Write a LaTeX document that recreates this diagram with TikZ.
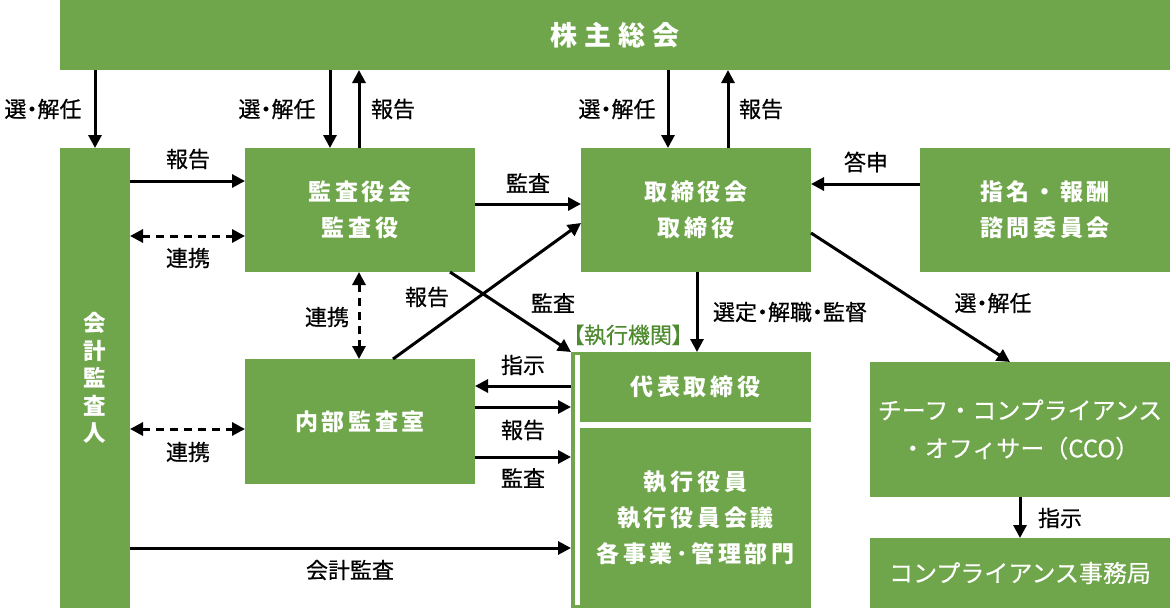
\documentclass[tikz,border=0pt]{standalone}
\usepackage{fontspec}
\setmainfont{Noto Sans CJK JP}
\newfontfamily\labfont{Noto Sans CJK JP}[RawFeature=+palt, FakeBold=0.5]
\newfontfamily\boxfontfam{Noto Sans CJK JP}[LetterSpace=16]
\newfontfamily\topfontfam{Noto Sans CJK JP}[LetterSpace=25]
\newfontfamily\ccofont{Noto Sans CJK JP}[FakeBold=0.3]
\usetikzlibrary{arrows.meta}
\definecolor{gr}{HTML}{70A64B}
\definecolor{dgr}{HTML}{4E8A2E}
\tikzset{
  box/.style={fill=gr, text=white, inner sep=0pt, outer sep=0pt, align=center,
    font=\boxfontfam\bfseries\fontsize{23}{36}\selectfont},
  lab/.style={inner sep=0pt, font=\labfont\fontsize{22}{26}\selectfont},
  arr/.style={line width=3pt, -{Triangle[length=13pt,width=13pt]}},
  darr/.style={line width=3pt, {Triangle[length=13pt,width=13pt]}-{Triangle[length=13pt,width=13pt]}, dash pattern=on 8pt off 6pt},
}
\begin{document}
\begin{tikzpicture}[x=1pt,y=-1pt]
\useasboundingbox (0,0) rectangle (1170,608);
% boxes
\node[box, minimum width=1110pt, minimum height=70pt, font=\topfontfam\bfseries\fontsize{27}{30}\selectfont] (top) at (615,35) {株主総会};
\node[box, minimum width=70pt, minimum height=460pt, font=\boxfontfam\bfseries\fontsize{22.5}{27.5}\selectfont] (acct) at (95,378) {会\\計\\監\\査\\人};
\node[box, minimum width=230pt, minimum height=124pt] (audit) at (360,210) {監査役会\\監査役};
\node[box, minimum width=230pt, minimum height=124pt] (board) at (696,210) {取締役会\\取締役};
\node[box, minimum width=250pt, minimum height=124pt] (nom) at (1045,210) {指名・報酬\\諮問委員会};
\node[box, minimum width=230pt, minimum height=125pt] (internal) at (360,421.5) {内部監査室};
\node[box, minimum width=240pt, minimum height=256pt] (exec) at (691,480) {};
\fill[white] (575,355) rectangle (580,605);
\node[box, minimum width=231pt, minimum height=70pt] (rep) at (695.5,387) {代表取締役};
\node[box, minimum width=231pt, minimum height=180pt] (low) at (695.5,518) {執行役員\\執行役員会議\\各事業･管理部門};
\fill[white] (580,422) rectangle (811,428);
\node[box, minimum width=300pt, minimum height=135pt, font=\ccofont\fontsize{24}{38}\selectfont] (cco) at (1020,429.5) {チーフ・コンプライアンス\\・オフィサー（CCO）};
\node[box, minimum width=300pt, minimum height=70pt, font=\ccofont\fontsize{24}{30}\selectfont] (office) at (1020,573) {コンプライアンス事務局};
\node[lab, text=dgr] (execlab) at (628,335) {【執行機関】};
% helper coordinates
\coordinate (aN1) at ([xshift=-30pt]audit.north);
\coordinate (aN2) at ([xshift=-1pt]audit.north);
\coordinate (bN1) at ([xshift=-28pt]board.north);
\coordinate (bN2) at ([xshift=32pt]board.north);
\coordinate (aW1) at ([yshift=29pt]audit.west);
\coordinate (aW2) at ([yshift=-26pt]audit.west);
\coordinate (bW1) at ([yshift=6pt]board.west);
\coordinate (bE1) at ([yshift=26pt]board.east);
\coordinate (bE2) at ([yshift=-23pt]board.east);
\coordinate (bW2) at ([yshift=-13pt]board.west);
\coordinate (iN1) at ([xshift=33pt]internal.north);
\coordinate (aS1) at ([xshift=90pt]audit.south);
\coordinate (aS2) at ([xshift=-1pt]audit.south);
\coordinate (iE1) at ([yshift=35.5pt]internal.east);
\coordinate (iE2) at ([yshift=14.5pt]internal.east);
\coordinate (iE3) at ([yshift=-35.5pt]internal.east);
\coordinate (cE1) at ([yshift=-170pt]acct.east);
\coordinate (cE2) at ([yshift=-51pt]acct.east);
\coordinate (bS1) at ([xshift=1pt]board.south);
\coordinate (ccoN) at ([xshift=-10pt]cco.north);
% connectors
\draw[arr] (top.south -| acct.north) -- (acct.north);
\draw[arr] (top.south -| aN1) -- (aN1);
\draw[arr] (aN2) -- (top.south -| aN2);
\draw[arr] (top.south -| bN1) -- (bN1);
\draw[arr] (bN2) -- (top.south -| bN2);
\draw[arr] (acct.east |- aW1) -- (aW1);
\draw[darr] (acct.east |- aW2) -- (aW2);
\draw[arr] (audit.east |- bW1) -- (bW1);
\draw[arr] (nom.west |- bE1) -- (bE1);
\draw[darr] (aS2) -- (internal.north -| aS2);
\draw[arr] (iN1) -- (bW2);
\draw[arr] (aS1) -- (exec.north west);
\draw[arr] (bS1) -- (rep.north -| bS1);
\draw[arr] (bE2) -- (ccoN);
\draw[arr] (exec.west |- iE1) -- (iE1);
\draw[arr] (iE2) -- (exec.west |- iE2);
\draw[arr] (iE3) -- (exec.west |- iE3);
\draw[arr] (cE1) -- (exec.west |- cE1);
\draw[darr] (cE2) -- (internal.west |- cE2);
\draw[arr] (cco.south) -- (office.north);
% labels
\node[lab] (l1) at (43,109) {選・解任};
\node[lab] (l2) at (277,109) {選・解任};
\node[lab] (l3) at (393,109) {報告};
\node[lab] (l4) at (188,159) {報告};
\node[lab] (l5) at (188,258) {連携};
\node[lab] (l6) at (327,317) {連携};
\node[lab] (l7) at (427,297) {報告};
\node[lab] (l8) at (553,303) {監査};
\node[lab] (l9) at (523,365) {指示};
\node[lab] (l10) at (523,430) {報告};
\node[lab] (l11) at (523,478) {監査};
\node[lab] (l12) at (188,452) {連携};
\node[lab] (l13) at (350,570) {会計監査};
\node[lab] (l14) at (617,109) {選・解任};
\node[lab] (l15) at (761,109) {報告};
\node[lab] (l16) at (528,183) {監査};
\node[lab] (l17) at (866,162) {答申};
\node[lab] (l18) at (790,312) {選定・解職・監督};
\node[lab] (l19) at (993,303) {選・解任};
\node[lab] (l20) at (1060,518) {指示};
\end{tikzpicture}
\end{document}
